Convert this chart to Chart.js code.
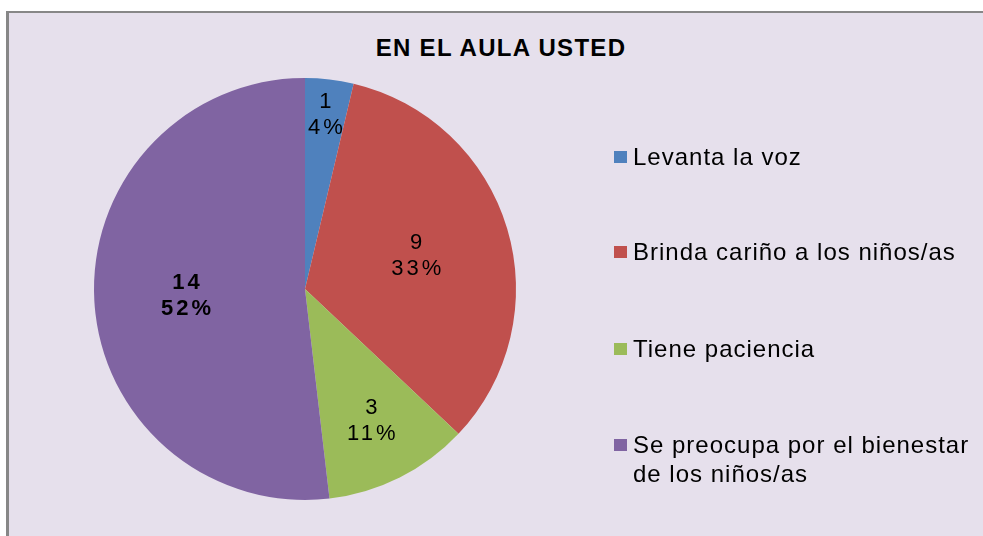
<!DOCTYPE html>
<html>
<head>
<meta charset="utf-8">
<script src="https://cdn.jsdelivr.net/npm/chart.js@4"></script>
<style>
    html, body { margin: 0; padding: 0; width: 983px; height: 536px; background: #ffffff; overflow: hidden; }
    #frame {
        position: absolute;
        left: 6px;
        top: 11px;
        right: -30px;
        bottom: -30px;
        background: #e6e0ec;
        border-left: 3px solid #878787;
        border-top: 2px solid #878787;
    }
    #title {
        position: absolute;
        left: 0;
        top: 34px;
        width: 1002px;
        text-align: center;
        font: bold 24px "Liberation Sans", Arial, sans-serif;
        letter-spacing: 1.3px;
        color: #000;
    }
    #wrap { position: absolute; left: 0; top: 0; width: 983px; height: 536px; }
    canvas { display: block; }
</style>
</head>
<body>
<div id="frame"></div>
<div id="title">EN EL AULA USTED</div>
<div id="wrap"><canvas id="chart" width="983" height="536"></canvas></div>
<script>
const LABELS = [
    "Levanta la voz",
    "Brinda cariño a los niños/as",
    "Tiene paciencia",
    "Se preocupa por el bienestar de los niños/as"
];
const COUNTS = [1, 9, 3, 14];
const COLORS = ["#4f81bd", "#c0504d", "#9bbb59", "#8064a2"];

// how far out (fraction of radius) each slice label sits, and which is bold
const LABEL_RADIUS = [0.83, 0.55, 0.70, 0.565];
const LABEL_BOLD = [false, false, false, true];

const FONT = '"Liberation Sans", Arial, sans-serif';

function percentText(value, total) {
    if (!total) {
        return "0%";
    }
    return `${Math.round((value / total) * 100)}%`;
}

function wrapText(ctx, text, maxWidth) {
    const words = text.split(" ");
    const lines = [];
    let line = "";
    words.forEach((word) => {
        const test = line ? `${line} ${word}` : word;
        if (line && ctx.measureText(test).width > maxWidth) {
            lines.push(line);
            line = word;
        } else {
            line = test;
        }
    });
    if (line) {
        lines.push(line);
    }
    return lines;
}

const sliceLabels = {
    id: "sliceLabels",
    afterDatasetsDraw(chart) {
        const ctx = chart.ctx;
        const meta = chart.getDatasetMeta(0);
        const data = chart.data.datasets[0].data;
        const total = data.reduce((acc, val) => acc + val, 0);

        ctx.save();
        ctx.fillStyle = "#000";
        ctx.textAlign = "center";
        ctx.textBaseline = "middle";
        ctx.letterSpacing = "3px";

        meta.data.forEach((arc, i) => {
            const { x, y, startAngle, endAngle, outerRadius } = arc.getProps(
                ["x", "y", "startAngle", "endAngle", "outerRadius"], true
            );
            const mid = (startAngle + endAngle) / 2;
            const r = outerRadius * LABEL_RADIUS[i];
            const cx = x + Math.cos(mid) * r;
            const cy = y + Math.sin(mid) * r;
            ctx.font = `${LABEL_BOLD[i] ? "bold " : ""}22px ${FONT}`;
            ctx.fillText(String(data[i]), cx + 1.5, cy - 13);
            ctx.fillText(percentText(data[i], total), cx + 1.5, cy + 13);
        });
        ctx.restore();
    }
};

const sideLegend = {
    id: "sideLegend",
    afterDraw(chart) {
        const ctx = chart.ctx;
        const itemTops = [151, 246, 343, 439];
        const lineHeight = 29;

        ctx.save();
        ctx.font = `24px ${FONT}`;
        ctx.letterSpacing = "1px";
        ctx.textBaseline = "alphabetic";
        ctx.textAlign = "left";

        chart.data.labels.forEach((label, i) => {
            const top = itemTops[i];
            ctx.fillStyle = COLORS[i];
            ctx.fillRect(614, top, 13, 12);

            ctx.fillStyle = "#000";
            const lines = wrapText(ctx, label, 345);
            lines.forEach((line, j) => {
                ctx.fillText(line, 633, top + 14 + j * lineHeight);
            });
        });
        ctx.restore();
    }
};

new Chart(document.getElementById("chart").getContext("2d"), {
    type: "pie",
    data: {
        labels: LABELS,
        datasets: [
            {
                data: COUNTS,
                backgroundColor: COLORS,
                borderWidth: 0
            }
        ]
    },
    options: {
        responsive: false,
        animation: false,
        layout: {
            padding: { left: 94, right: 467, top: 78, bottom: 36 }
        },
        plugins: {
            legend: { display: false },
            tooltip: { enabled: false },
            title: { display: false }
        }
    },
    plugins: [sliceLabels, sideLegend]
});
</script>
</body>
</html>
